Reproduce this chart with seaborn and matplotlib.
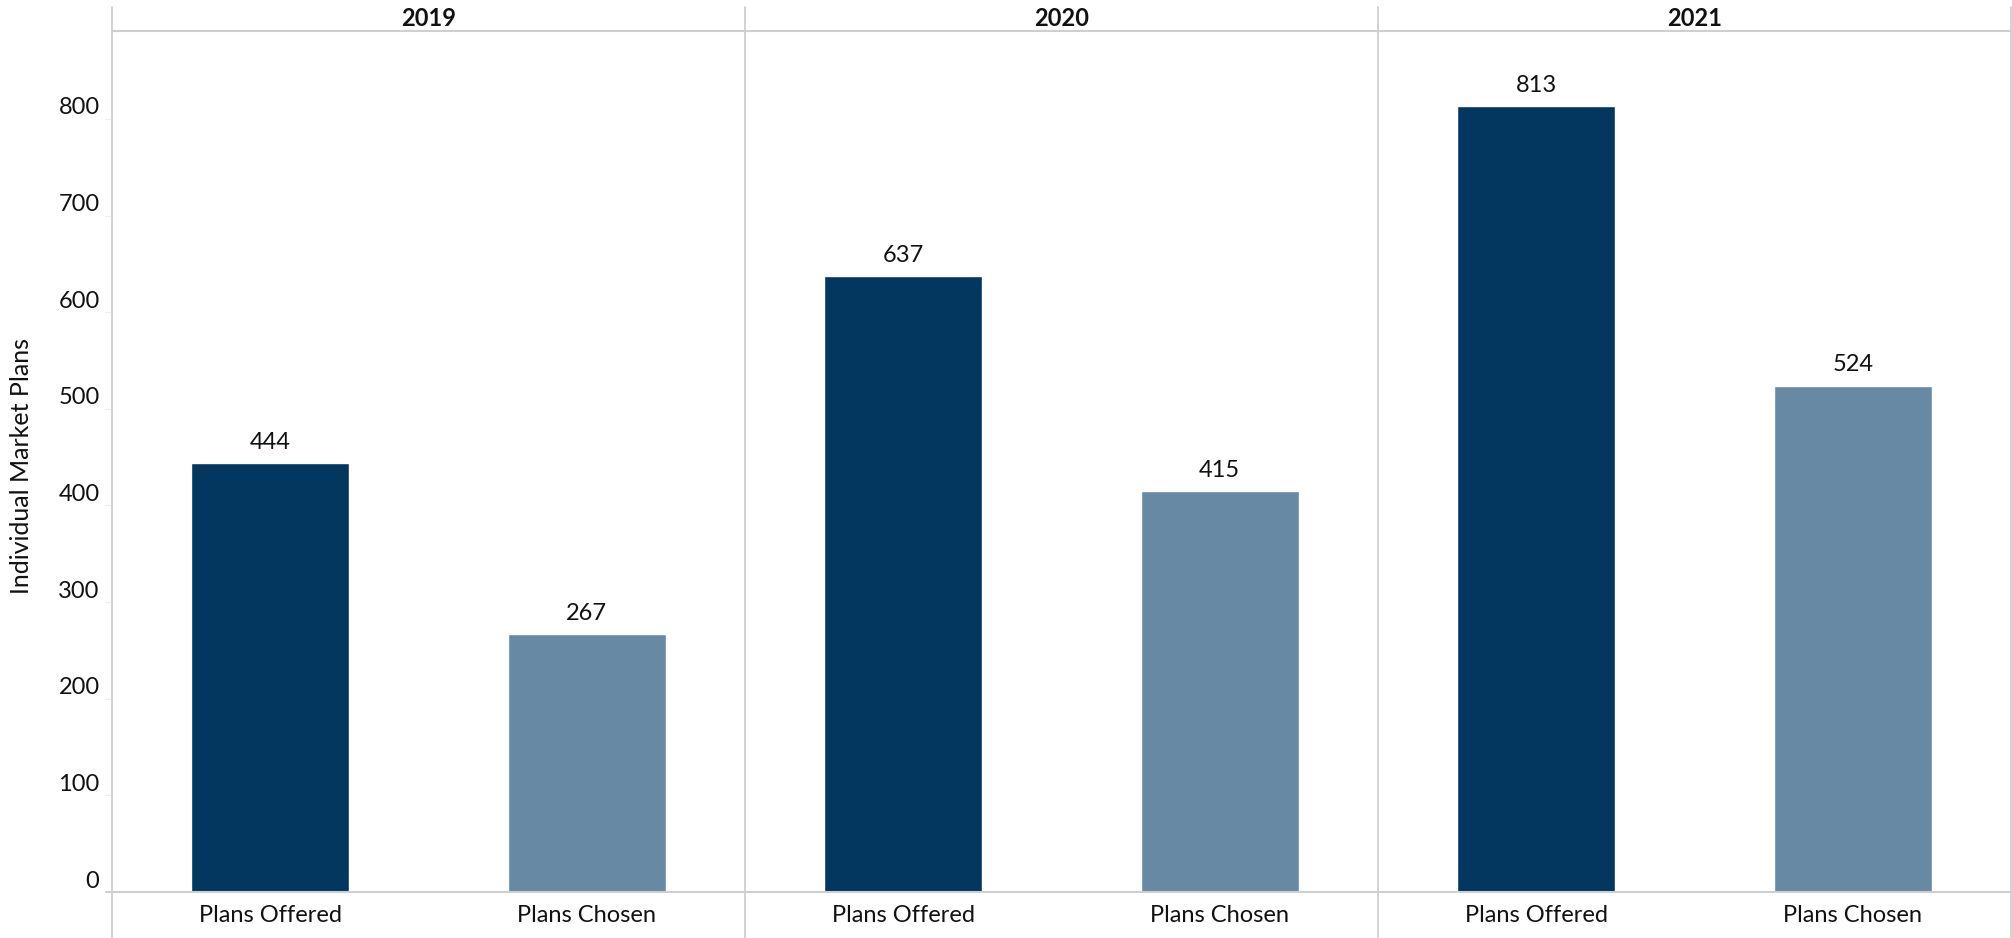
import matplotlib
matplotlib.use("Agg")
import matplotlib.pyplot as plt
import matplotlib.transforms as mtransforms
from matplotlib.lines import Line2D
import pandas as pd
import seaborn as sns

# Data
years = ["2019", "2020", "2021"]
plan_types = ["Plans Offered", "Plans Chosen"]
plans_offered = [444, 637, 813]
plans_chosen = [267, 415, 524]
y_ticks = [0, 100, 200, 300, 400, 500, 600, 700, 800]
y_label = "Individual Market Plans"

colors = {"Plans Offered": "#033760", "Plans Chosen": "#6789a3"}
grid_col = "#cfcfcf"

df = pd.DataFrame({
    "year": [y for y in years for _ in plan_types],
    "type": plan_types * len(years),
    "plans": [v for pair in zip(plans_offered, plans_chosen) for v in pair],
})

sns.set_theme(style="white")
plt.rcParams["font.family"] = ["Lato", "DejaVu Sans"]

W, H, DPI = 2012, 938, 100
fig = plt.figure(figsize=(W / DPI, H / DPI), dpi=DPI)

# pixel geometry of the panel grid
x_left, x_right = 112, 2011
y_header, y_axis = 31, 892
y_top_line = 7
panel_w = (x_right - x_left) / 3

def fx(px):
    return px / W

def fy(py):
    return 1 - py / H

axes = []
for i, year in enumerate(years):
    ax = fig.add_axes([fx(x_left + i * panel_w), fy(y_axis),
                       panel_w / W, (y_axis - y_header) / H])
    sub = df[df["year"] == year]
    sns.barplot(data=sub, x="type", y="plans", hue="type", order=plan_types,
                hue_order=plan_types, palette=colors, width=0.5,
                legend=False, ax=ax, saturation=1)
    ax.set_xlim(-0.5, 1.5)
    ax.set_ylim(0, 891)
    for s in ax.spines.values():
        s.set_visible(False)
    ax.set_xlabel("")
    ax.set_ylabel("")
    ax.tick_params(axis="x", length=0, pad=9, labelsize=17, labelcolor="#111111")
    for j, t in enumerate(plan_types):
        v = sub.loc[sub["type"] == t, "plans"].iloc[0]
        ax.annotate(f"{v}", xy=(j, v), xytext=(0, 15), textcoords="offset points",
                    ha="center", va="center", fontsize=17, color="#111111")
    ax.text(0.5, fy(18), year,
            transform=mtransforms.blended_transform_factory(ax.transAxes, fig.transFigure),
            ha="center", va="center", fontsize=17, fontweight="bold", color="#111111")
    ax.set_yticks(y_ticks)
    if i == 0:
        ax.tick_params(axis="y", length=5, width=0.8, color="#ececec", pad=4,
                       labelsize=17, labelcolor="#111111", left=True)
        # value labels sit just above their tick marks
        shift = mtransforms.ScaledTranslation(0, 0.13, fig.dpi_scale_trans)
        for lbl in ax.get_yticklabels():
            lbl.set_transform(lbl.get_transform() + shift)
        ax.set_ylabel(y_label, fontsize=18, color="#111111")
        ax.yaxis.label.set_verticalalignment("center")
        ax.yaxis.set_label_coords((22 - x_left) / panel_w, (y_axis - 466) / (y_axis - y_header))
    else:
        ax.tick_params(axis="y", left=False, labelleft=False)
    axes.append(ax)

# frame lines of the panel grid
for k in range(4):
    xp = x_left + k * panel_w
    fig.add_artist(Line2D([fx(xp), fx(xp)], [fy(y_top_line), fy(H)],
                          color=grid_col, lw=1.3))
fig.add_artist(Line2D([fx(x_left), fx(x_right)], [fy(y_header), fy(y_header)],
                      color=grid_col, lw=1.5))
fig.add_artist(Line2D([fx(x_left - 6), fx(x_right)], [fy(y_axis), fy(y_axis)],
                      color=grid_col, lw=1.5))

fig.savefig("out.png", dpi=DPI, facecolor="white")
